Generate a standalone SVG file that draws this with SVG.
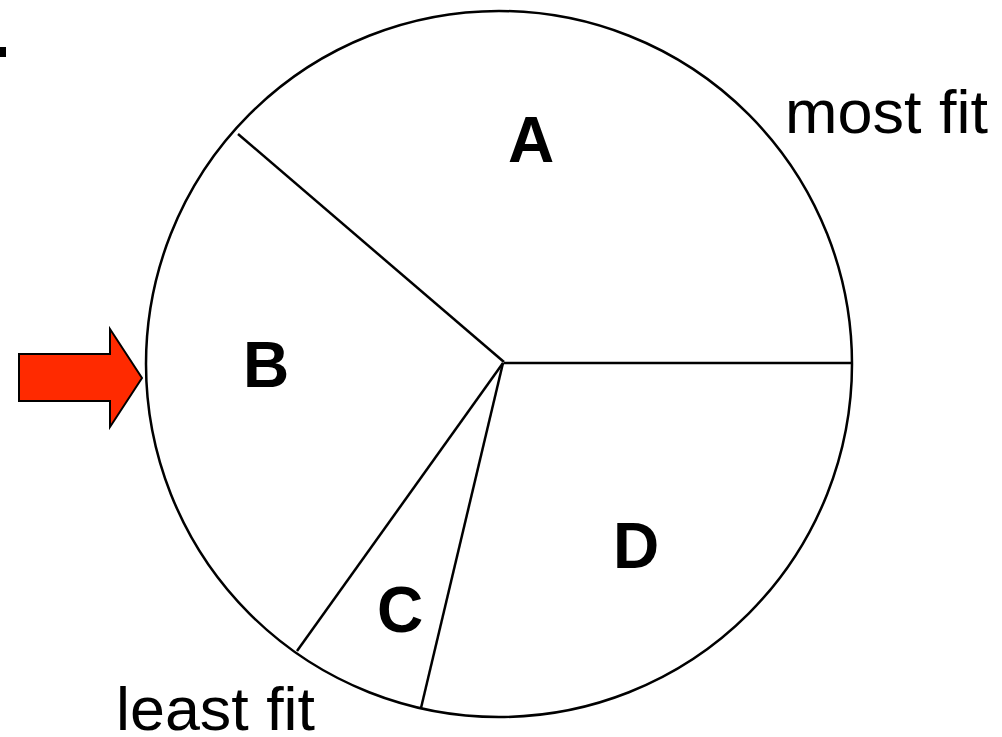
<svg xmlns="http://www.w3.org/2000/svg" width="1002" height="737" viewBox="0 0 1002 737">
<style>
.ln{stroke:#000;stroke-width:2.5;fill:none}
.lbl{font-family:"Liberation Sans",Arial,sans-serif;font-weight:bold;font-size:64px;fill:#000;text-anchor:middle}
.note{font-family:"Liberation Sans",Arial,sans-serif;font-size:62px;fill:#000}
</style>
<rect width="1002" height="737" fill="#fff"/>
<rect x="0" y="47" width="6" height="10" fill="#000"/>
<g id="pie">
<circle class="ln" cx="499" cy="364" r="353"/>
</g>
<g id="connectors">
<line class="ln" x1="504" y1="362" x2="238" y2="134"/>
<line class="ln" x1="504" y1="363" x2="852" y2="363"/>
<line class="ln" x1="503" y1="363" x2="297" y2="651"/>
<line class="ln" x1="503" y1="363" x2="421" y2="708"/>
</g>
<g id="segA"><text class="lbl" x="531" y="162">A</text></g>
<g id="segB"><text class="lbl" x="266" y="387">B</text></g>
<g id="segC"><text class="lbl" x="400" y="632">C</text></g>
<g id="segD"><text class="lbl" x="636" y="568">D</text></g>
<g id="mostfit"><text class="note" x="785" y="133" textLength="203" lengthAdjust="spacingAndGlyphs">most fit</text></g>
<g id="leastfit"><text class="note" x="116" y="730" font-size="60" textLength="199" lengthAdjust="spacingAndGlyphs">least fit</text></g>
<g id="arrow">
<polygon points="19,354 110,354 110,329 142,378 110,427 110,401 19,401" fill="#ff2a00" stroke="#000" stroke-width="2" stroke-linejoin="miter"/>
</g>
</svg>
